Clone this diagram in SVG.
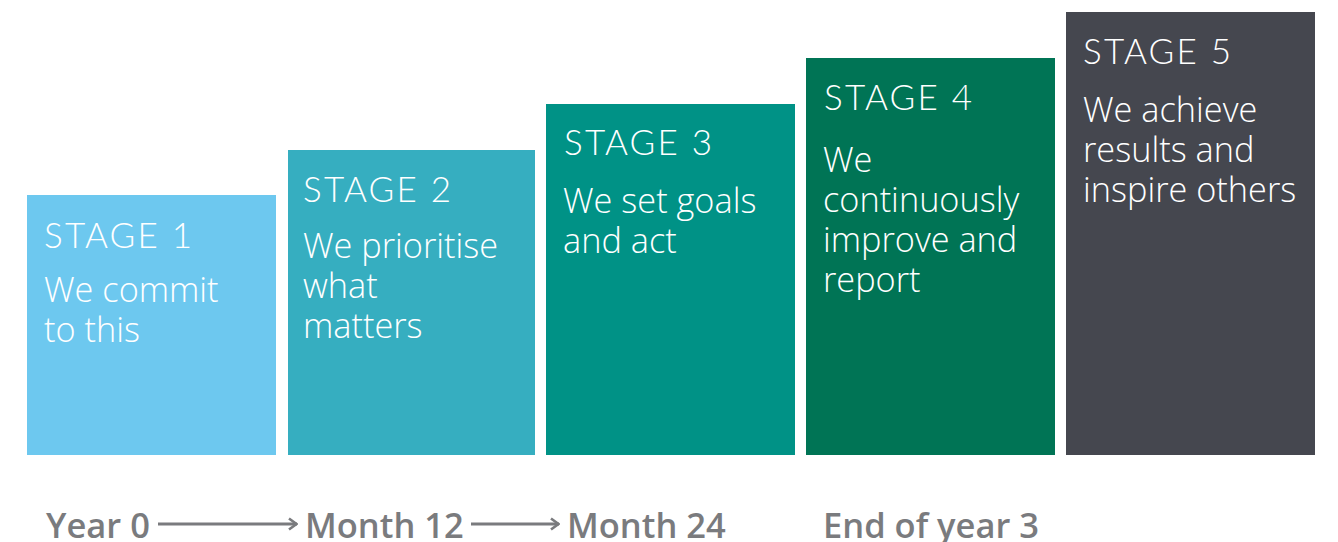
<svg xmlns="http://www.w3.org/2000/svg" width="1338" height="542" viewBox="0 0 1338 542">
<defs>
<style>
.stage{font-family:Lato,"Open Sans",sans-serif;font-weight:300;font-size:35px;letter-spacing:2.2px;fill:#fff}
.body{font-family:"Open Sans","Noto Sans",sans-serif;font-weight:300;font-size:34.3px;fill:#fff}
.time{font-family:"Open Sans","Noto Sans",sans-serif;font-weight:600;font-size:34.5px;fill:#7a7b7e}
.conn{stroke:#7a7b7e;stroke-width:3;fill:none}
</style>
<marker id="arr" viewBox="0 0 12 14" refX="11" refY="7" markerWidth="12" markerHeight="14" markerUnits="userSpaceOnUse" orient="auto">
<path d="M3,1.5 L10.5,7 L3,12.5" fill="none" stroke="#7a7b7e" stroke-width="2.6"/>
</marker>
</defs>
<rect width="1338" height="542" fill="#fff"/>
<g id="stage1">
<rect x="27" y="195" width="249" height="260" fill="#6dc8ef"/>
<text class="stage" x="44" y="248">STAGE 1</text>
<text class="body" x="44" y="302">We commit</text>
<text class="body" x="44" y="342">to this</text>
</g>
<g id="stage2">
<rect x="288" y="150" width="247" height="305" fill="#36aec0"/>
<text class="stage" x="303" y="202">STAGE 2</text>
<text class="body" x="303" y="258">We prioritise</text>
<text class="body" x="303" y="298">what</text>
<text class="body" x="303" y="338">matters</text>
</g>
<g id="stage3">
<rect x="546" y="104" width="249" height="351" fill="#009286"/>
<text class="stage" x="564" y="155">STAGE 3</text>
<text class="body" x="563" y="213">We set goals</text>
<text class="body" x="563" y="253">and act</text>
</g>
<g id="stage4">
<rect x="806" y="58" width="249" height="397" fill="#007455"/>
<text class="stage" x="824" y="110">STAGE 4</text>
<text class="body" x="823" y="172">We</text>
<text class="body" x="823" y="212">continuously</text>
<text class="body" x="823" y="252">improve and</text>
<text class="body" x="823" y="292">report</text>
</g>
<g id="stage5">
<rect x="1066" y="12" width="249" height="443" fill="#45474f"/>
<text class="stage" x="1083" y="64">STAGE 5</text>
<text class="body" x="1083" y="122">We achieve</text>
<text class="body" x="1083" y="162">results and</text>
<text class="body" x="1083" y="202">inspire others</text>
</g>
<g id="timeline">
<text class="time" x="46" y="538">Year 0</text>
<text class="time" x="305" y="538">Month 12</text>
<text class="time" x="567" y="538">Month 24</text>
<text class="time" x="823" y="538">End of year 3</text>
</g>
<g id="connectors">
<line class="conn" x1="158" y1="524" x2="297" y2="524" marker-end="url(#arr)"/>
<line class="conn" x1="471" y1="524" x2="559" y2="524" marker-end="url(#arr)"/>
</g>
</svg>
